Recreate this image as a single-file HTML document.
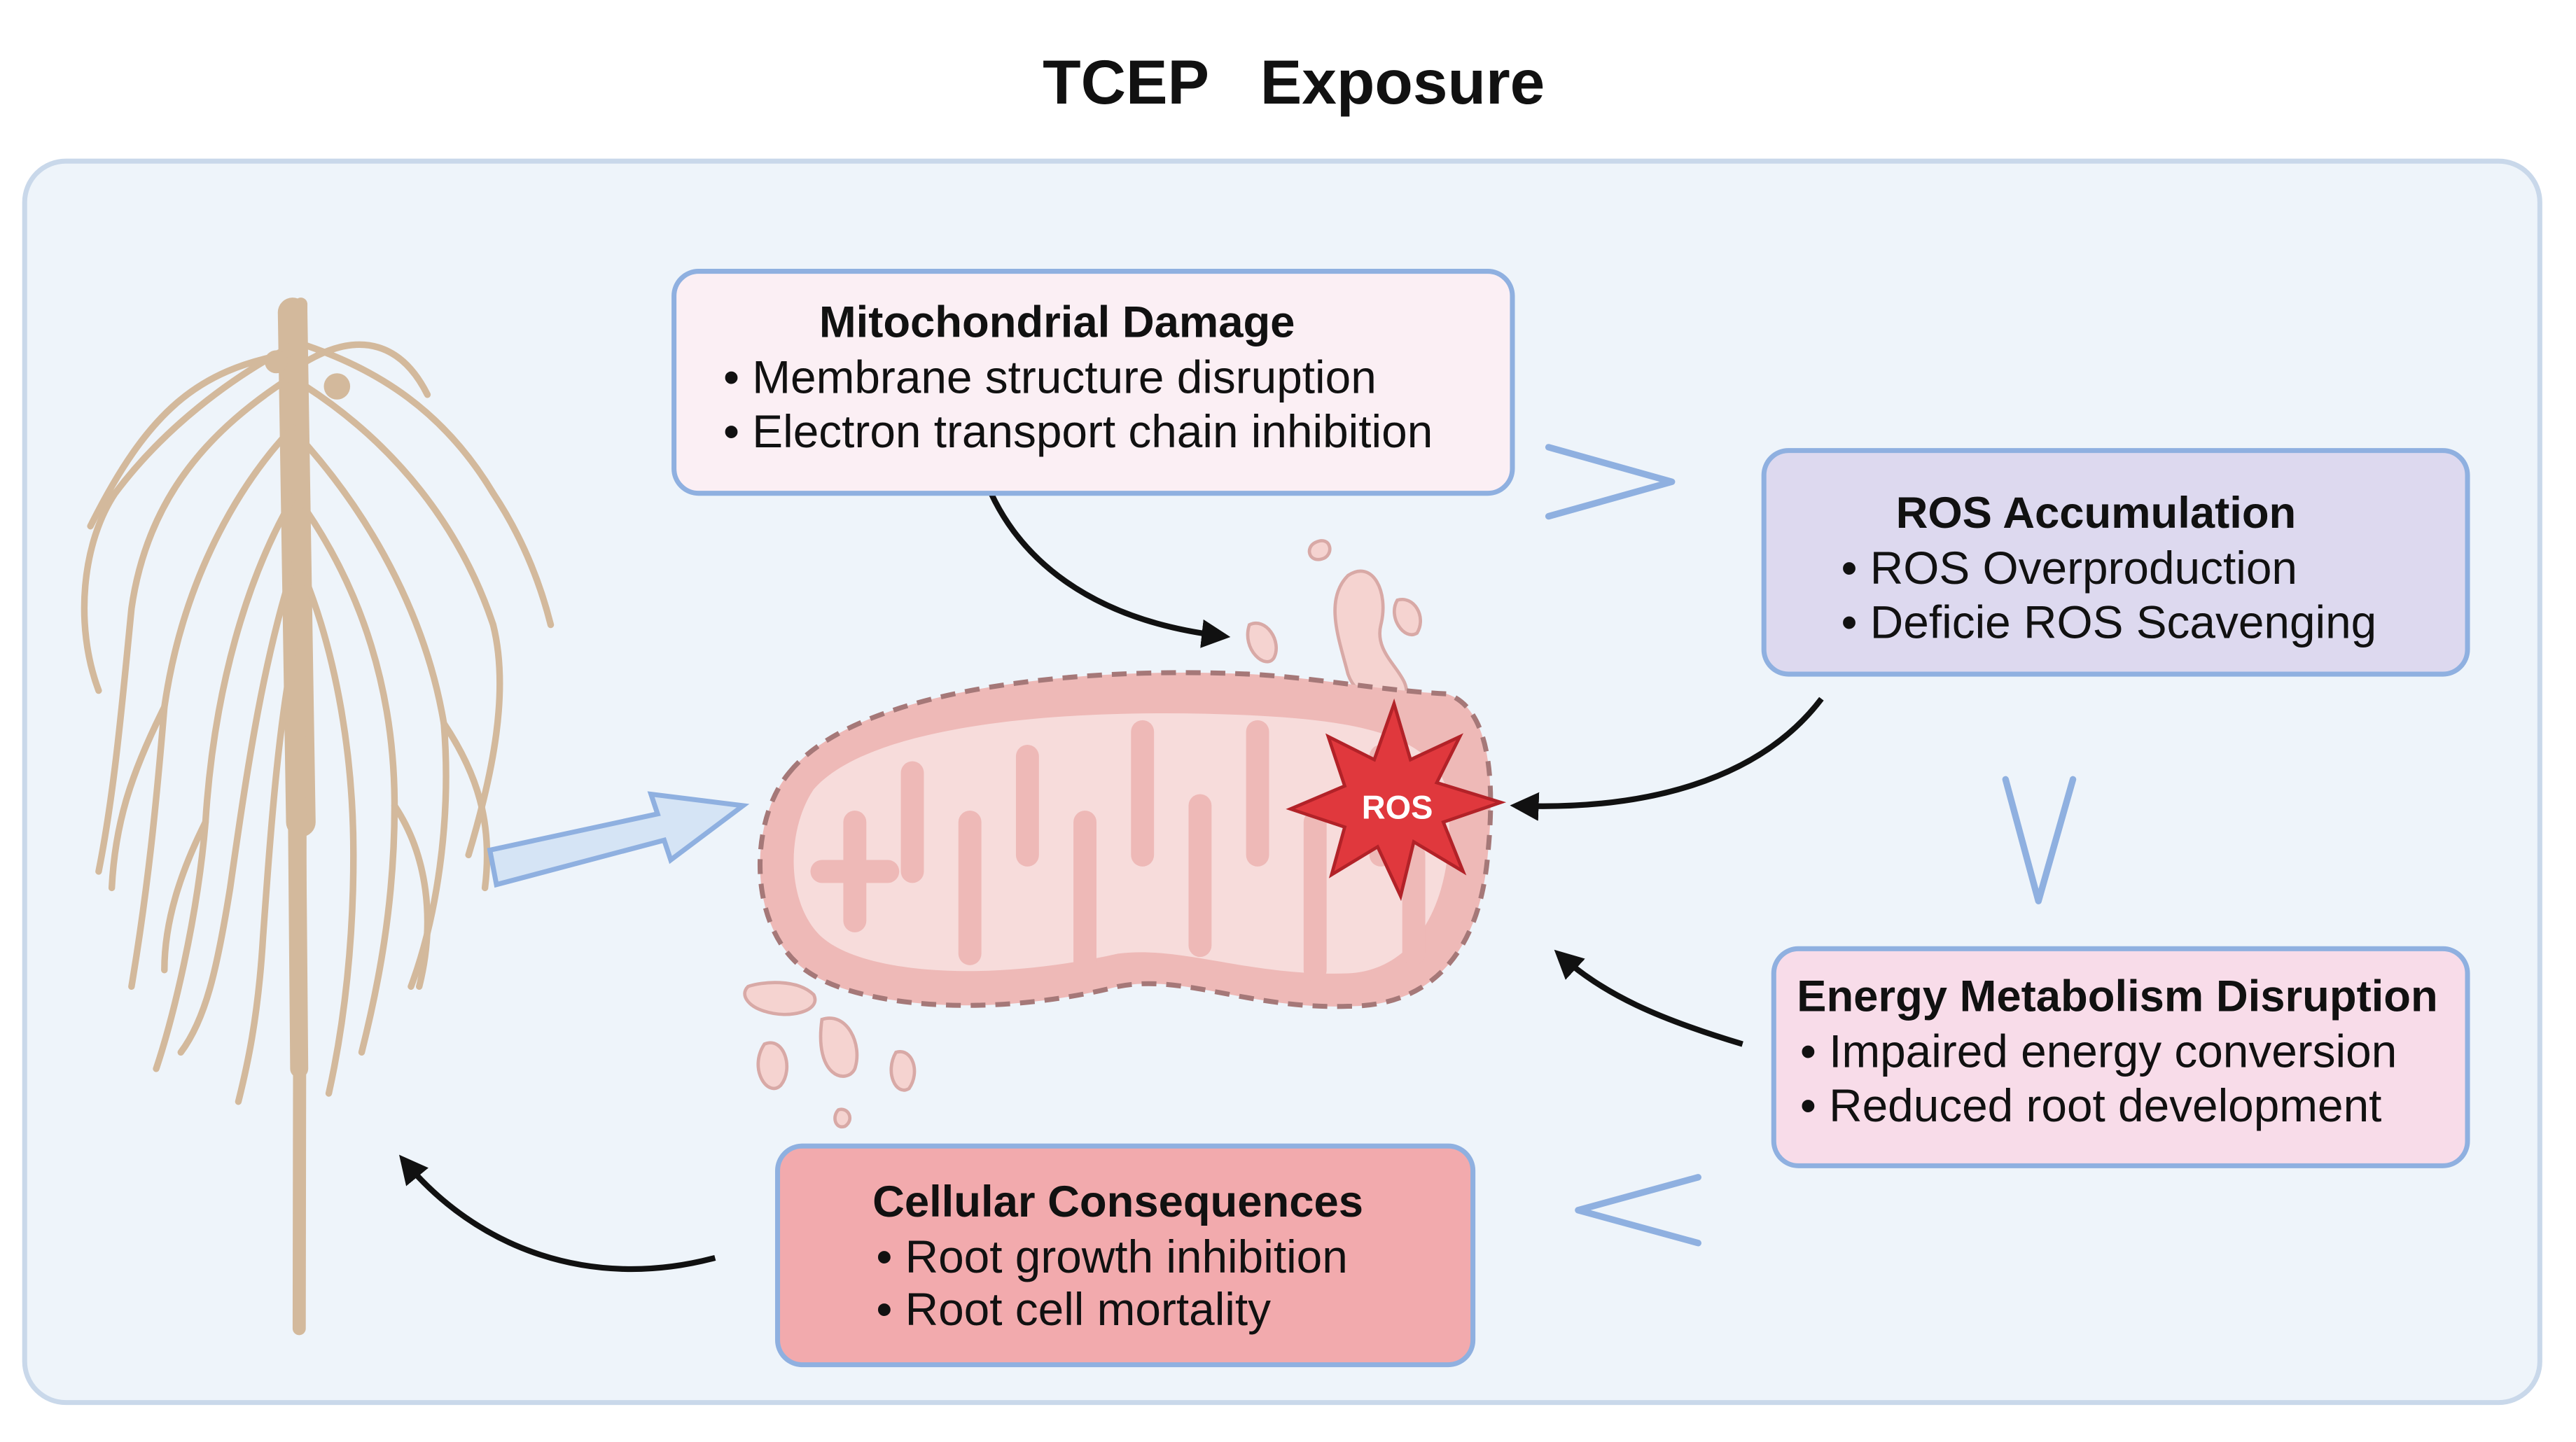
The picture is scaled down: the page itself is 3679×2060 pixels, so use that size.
<!DOCTYPE html>
<html><head><meta charset="utf-8"><style>
html,body{margin:0;padding:0;background:#fff;}
svg{display:block;}
text{font-family:"Liberation Sans",sans-serif;fill:#111;}
</style></head><body>
<svg width="3679" height="2060" viewBox="0 0 1567 877" preserveAspectRatio="none" xmlns="http://www.w3.org/2000/svg">
<defs>
<marker id="ah" viewBox="0 0 10 10" refX="8" refY="5" markerWidth="5" markerHeight="5" orient="auto"><path d="M0,0 L10,5 L0,10 Z" fill="#111"/></marker>
<linearGradient id="ga1" x1="0" y1="0" x2="1" y2="1"><stop offset="0" stop-color="#bbb"/><stop offset="0.5" stop-color="#111"/></linearGradient>
</defs>
<rect width="1567" height="877" fill="#fff"/>
<text x="787" y="63" font-size="38" font-weight="bold" text-anchor="middle" xml:space="preserve">TCEP   Exposure</text>
<rect x="15" y="98" width="1530" height="755" rx="25" fill="#eef4fa" stroke="#c9d8ea" stroke-width="3"/>

<!-- root -->
<g fill="none" stroke="#d3b99c" stroke-linecap="round">
<path d="M183,185 L182,808" stroke-width="8"/>
<path d="M178,190 L183,500" stroke-width="18"/>
<path d="M180,420 L182,650" stroke-width="11"/>
<g stroke-width="4">
<path d="M178,210 C140,230 100,260 70,300 C50,330 45,380 60,420"/>
<path d="M176,230 C130,260 90,300 80,370 C75,420 70,480 60,530"/>
<path d="M178,260 C140,300 110,360 100,430 C95,490 90,540 80,600"/>
<path d="M180,300 C150,350 130,420 125,500 C120,560 105,620 95,650"/>
<path d="M180,340 C160,400 150,470 140,540 C132,590 125,620 110,640"/>
<path d="M182,380 C170,430 165,500 160,570 C157,620 150,650 145,670"/>
<path d="M176,215 C120,225 90,250 55,320"/>
<path d="M186,210 C230,225 270,250 300,300 C320,330 330,360 335,380"/>
<path d="M186,235 C240,270 280,320 300,380 C310,420 300,470 285,520"/>
<path d="M186,270 C230,320 260,380 270,440 C275,500 265,560 250,600"/>
<path d="M186,310 C220,360 240,420 240,490 C240,550 230,600 220,640"/>
<path d="M185,350 C205,400 215,460 215,520 C215,570 210,620 200,665"/>
<path d="M186,220 C220,200 245,210 260,240"/>
<path d="M100,430 C80,470 70,500 68,540"/>
<path d="M270,440 C290,470 300,500 295,540"/>
<path d="M240,490 C260,520 265,560 255,600"/>
<path d="M125,500 C110,530 100,560 100,590"/>
</g>
<circle cx="168" cy="220" r="7" fill="#d3b99c" stroke="none"/>
<circle cx="205" cy="235" r="8" fill="#d3b99c" stroke="none"/>
</g>

<!-- big hollow arrow -->
<path d="M298,517 L400,495 L396,483 L452,490 L408,523 L404,511 L302,538 Z" fill="#d5e4f5" stroke="#8fb0e0" stroke-width="3"/>

<!-- mitochondrion -->
<g>
<path d="M800,330 c10,-5 12,8 4,10 c-8,2 -10,-7 -4,-10z M820,350 c15,-10 25,10 20,30 c-5,20 20,30 15,45 c-8,10 -30,0 -35,-15 c-5,-20 -15,-45 0,-60z M850,365 c10,-3 18,10 12,20 c-8,5 -18,-10 -12,-20z M760,380 c10,-5 20,10 15,20 c-5,8 -20,-5 -15,-20z M465,635 c12,-5 18,15 10,25 c-8,8 -20,-10 -10,-25z M500,620 c15,-5 25,15 20,30 c-5,10 -25,5 -20,-30z M545,640 c10,-3 15,12 8,22 c-8,5 -15,-10 -8,-22z M510,675 c6,-2 10,6 4,10 c-6,2 -8,-6 -4,-10z M455,600 c8,-3 30,-5 40,5 c5,10 -15,15 -30,10 c-10,-3 -15,-10 -10,-15z" fill="#f5d3d0" stroke="#d8a9a6" stroke-width="2"/>
<path d="M480,470 C520,420 650,405 760,410 C800,412 840,420 880,422 C905,430 910,470 905,520 C900,580 870,612 820,612 C760,614 720,592 680,600 C600,620 520,612 490,590 C455,565 455,500 480,470 Z" fill="#eeb9b7" stroke="#a57878" stroke-width="3" stroke-dasharray="9,6"/>
<path d="M495,480 C530,440 650,430 760,435 C820,438 870,445 880,480 C888,540 865,590 820,592 C760,594 720,575 680,580 C600,598 525,592 500,570 C478,550 478,505 495,480 Z" fill="#f7dcdb"/>
<g fill="none" stroke="#eeb9b7" stroke-width="14" stroke-linecap="round">
<path d="M520,500 L520,560"/>
<path d="M555,470 L555,530"/>
<path d="M590,500 L590,580"/>
<path d="M625,460 L625,520"/>
<path d="M660,500 L660,585"/>
<path d="M695,445 L695,520"/>
<path d="M730,490 L730,575"/>
<path d="M765,445 L765,520"/>
<path d="M800,500 L800,590"/>
<path d="M840,460 L840,520"/>
<path d="M860,520 L860,580"/>
<path d="M500,530 L540,530"/>
</g>
<path d="M848,428 L858,462 L888,448 L874,476 L913,488 L878,500 L890,530 L860,512 L852,545 L838,515 L810,532 L818,503 L785,492 L818,478 L808,448 L836,462 Z" fill="#e0383d" stroke="#b22228" stroke-width="2"/>
<text x="850" y="498" font-size="20" font-weight="bold" text-anchor="middle" style="fill:#fff">ROS</text>
</g>

<!-- curved arrows -->
<g fill="none" stroke-width="3.5" marker-end="url(#ah)">
<path d="M597,285 C615,340 665,378 745,387" stroke="#111"/>
<path d="M1108,425 C1070,475 1000,493 922,490" stroke="url(#ga1)"/>
<path d="M1060,635 C1010,620 975,605 948,580" stroke="#111"/>
<path d="M435,765 C360,785 290,760 245,705" stroke="#111"/>
</g>

<!-- chevrons -->
<g fill="none" stroke="#8fb0e0" stroke-width="4" stroke-linecap="round" stroke-linejoin="round">
<path d="M942,272 L1017,293 L942,314"/>
<path d="M1220,474 L1240,548 L1261,474"/>
<path d="M1033,716 L960,736 L1033,756"/>
</g>

<!-- boxes -->
<g stroke="#8fb0e0" stroke-width="3">
<rect x="410" y="165" width="510" height="135" rx="15" fill="#fbeff4"/>
<rect x="1073" y="274" width="428" height="136" rx="15" fill="#ddd9ef"/>
<rect x="1079" y="577" width="422" height="132" rx="15" fill="#f8dce9"/>
<rect x="473" y="697" width="423" height="133" rx="15" fill="#f2aaad"/>
</g>
<g font-size="28">
<text x="643" y="205" font-size="27" font-weight="bold" text-anchor="middle">Mitochondrial Damage</text>
<text x="440" y="239">• Membrane structure disruption</text>
<text x="440" y="272">• Electron transport chain inhibition</text>
<text x="1275" y="321" font-size="27" font-weight="bold" text-anchor="middle">ROS Accumulation</text>
<text x="1120" y="355">• ROS Overproduction</text>
<text x="1120" y="388">• Deficie ROS Scavenging</text>
<text x="1288" y="615" font-size="27" font-weight="bold" text-anchor="middle">Energy Metabolism Disruption</text>
<text x="1095" y="649">• Impaired energy conversion</text>
<text x="1095" y="682">• Reduced root development</text>
<text x="680" y="740" font-size="27" font-weight="bold" text-anchor="middle">Cellular Consequences</text>
<text x="533" y="774">• Root growth inhibition</text>
<text x="533" y="806">• Root cell mortality</text>
</g>
</svg>
</body></html>
